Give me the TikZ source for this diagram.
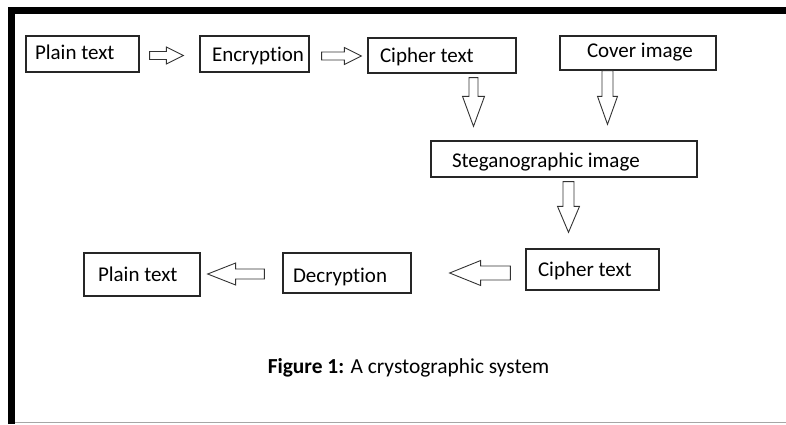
\documentclass[tikz,border=0pt]{standalone}
\usepackage{fontspec}
\setmainfont{Carlito}[Ligatures=NoCommon]
\usetikzlibrary{calc}
\tikzset{box/.style={ % Boxes of the diagram
    draw=black!85, line width=1.3pt,
    inner ysep=0pt, text depth=0pt,
    font=\fontsize{21}{25}\selectfont},
    arrowline/.style={draw=black!80, line width=0.9pt, line join=miter}}
% Text set flush left in a box of given width
\newcommand{\lefttext}[2]{\makebox[#1pt][l]{#2}}
% Hollow block arrow: tail, tip, shaft half width, head half width, head length
\newcommand{\blockarrow}[5]{%
    \coordinate (ba-s) at #1;
    \coordinate (ba-e) at #2;
    \coordinate (ba-h) at ($(ba-e)!#5pt!(ba-s)$);
    \draw[arrowline] ($(ba-s)!#3pt!90:(ba-e)$) -- ($(ba-h)!#3pt!90:(ba-e)$)
        -- ($(ba-h)!#4pt!90:(ba-e)$) -- (ba-e) -- ($(ba-h)!#4pt!-90:(ba-e)$)
        -- ($(ba-h)!#3pt!-90:(ba-e)$) -- ($(ba-s)!#3pt!-90:(ba-e)$) -- cycle;}

\begin{document}
\begin{tikzpicture}[x=1pt, y=-1pt]
    \useasboundingbox (0,0) rectangle (786,424);
    % Frame
    \draw[line width=7pt, line join=miter] (11.5,424) -- (11.5,10.5) -- (786,10.5);
    \draw[gray!70, line width=1.5pt] (15,422.5) -- (786,422.5);

    % Encryption row
    \node[box, minimum height=36pt, inner xsep=9pt, text height=10pt] (plainA) at (82.5,54) {\lefttext{95}{Plain text}};
    \node[box, minimum height=36pt, inner xsep=12pt, text height=14pt] (encr) at (254.5,54) {\lefttext{85}{Encryption}};
    \node[box, minimum height=35pt, inner xsep=12pt, text height=13pt] (cipherA) at (442,55.5) {\lefttext{124}{Cipher text}};
    \node[box, minimum height=34pt, inner xsep=27pt, text height=8pt] (cover) at (638,53) {\lefttext{102}{Cover image}};

    % Hiding
    \node[box, minimum height=36pt, inner xsep=21pt, text height=16pt] (stego) at (564,159) {\lefttext{224}{Steganographic image}};

    % Decryption row
    \node[box, minimum height=41pt, inner xsep=12pt, text height=13pt] (cipherB) at (592.5,269.5) {\lefttext{109}{Cipher text}};
    \node[box, minimum height=40pt, inner xsep=10pt, text height=19pt] (decr) at (347,273) {\lefttext{108}{Decryption}};
    \node[box, minimum height=43pt, inner xsep=14pt, text height=14pt] (plainB) at (142,274.5) {\lefttext{88}{Plain text}};

    % Arrows
    \blockarrow{($(plainA.east)+(10,1.5)$)}{($(encr.west)+(-16,1.5)$)}{4}{8.5}{17}
    \blockarrow{($(encr.east)+(12,2)$)}{($(cipherA.west)+(-6,0.5)$)}{4}{8.5}{17}
    \blockarrow{($(cipherA.south)+(31.5,4)$)}{($(stego.north)+(-90.5,-14)$)}{4.5}{11}{30}
    \blockarrow{($(cover.south)+(-30.5,0)$)}{($(stego.north)+(43.5,-16)$)}{5.5}{10}{28}
    \blockarrow{($(stego.south)+(4.5,4)$)}{($(cipherB.north)+(-24,-16)$)}{5.5}{11}{26}
    \blockarrow{($(cipherB.west)+(-15,3.5)$)}{($(decr.east)+(38,0)$)}{7}{12.5}{31}
    \blockarrow{($(decr.west)+(-18,1)$)}{($(plainB.east)+(7,-0.5)$)}{5}{11}{28}

    % Caption
    \node[font=\fontsize{21.4}{25}\selectfont] (caption) at (408.5,368) {\textbf{Figure 1:} A crystographic system};
\end{tikzpicture}
\end{document}
